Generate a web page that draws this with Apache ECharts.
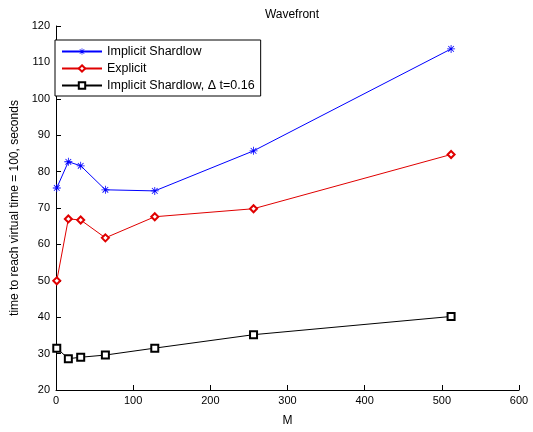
<!DOCTYPE html>
<html>
<head>
<meta charset="utf-8">
<script src="https://cdn.jsdelivr.net/npm/echarts@6/dist/echarts.min.js"></script>
<style>
  html, body { margin: 0; padding: 0; background: #fff; }
  #chart { width: 533px; height: 432px; }
</style>
</head>
<body>
<div id="chart"></div>
<script>
// data
var mValues = [1, 16, 32, 64, 128, 256, 512];
var implicitShardlow = [75.5, 82.7, 81.6, 75, 74.7, 85.7, 113.7];
var explicitVals = [50, 67, 66.7, 61.8, 67.6, 69.8, 84.7];
var implicitDt = [31.5, 28.6, 29, 29.6, 31.5, 35.2, 40.2];
var seriesNames = ['Implicit Shardlow', 'Explicit', 'Implicit Shardlow, \u0394 t=0.16'];

function pairs(ys) {
    return mValues.map(function (x, i) { return [x, ys[i]]; });
}

// asterisk marker like matlab '*'
var star = 'path://M4.5,0h1v10h-1z M0,4.5h10v1h-10z M1.1,1.8L1.8,1.1L8.9,8.2L8.2,8.9Z M8.2,1.1L8.9,1.8L1.8,8.9L1.1,8.2Z';

var font = 'Liberation Sans';
var chart = echarts.init(document.getElementById('chart'));
chart.setOption({
    animation: false,
    backgroundColor: '#fff',
    title: {
        text: 'Wavefront',
        left: 287,
        top: 4,
        textAlign: 'center',
        textStyle: { fontFamily: font, fontSize: 12, fontWeight: 'normal', color: '#000' }
    },
    legend: {
        orient: 'vertical',
        left: 55,
        top: 40,
        data: seriesNames,
        backgroundColor: '#fff',
        borderColor: '#000',
        borderWidth: 1,
        borderRadius: 0,
        padding: [5, 6, 4, 6],
        itemGap: 4,
        itemWidth: 40,
        itemHeight: 8,
        itemStyle: { borderWidth: 1 },
        textStyle: { fontFamily: font, fontSize: 12.5, color: '#000' }
    },
    grid: { left: 56, right: 14, top: 26, bottom: 42 },
    xAxis: {
        type: 'value',
        min: 0, max: 600, interval: 100,
        name: 'M',
        nameLocation: 'middle',
        nameGap: 25,
        nameTextStyle: { fontFamily: font, fontSize: 12, color: '#000' },
        axisLine: { lineStyle: { color: '#000', width: 1 } },
        axisTick: { inside: true, length: 5, lineStyle: { color: '#000' } },
        axisLabel: { fontFamily: font, fontSize: 11, color: '#000', margin: 5 },
        splitLine: { show: false }
    },
    yAxis: {
        type: 'value',
        min: 20, max: 120, interval: 10,
        name: 'time to reach virtual time = 100, seconds',
        nameLocation: 'middle',
        nameGap: 33,
        nameTextStyle: { fontFamily: font, fontSize: 12, color: '#000' },
        axisLine: { show: true, lineStyle: { color: '#000', width: 1 } },
        axisTick: { show: true, inside: true, length: 5, lineStyle: { color: '#000' } },
        axisLabel: { fontFamily: font, fontSize: 11, color: '#000', margin: 6 },
        splitLine: { show: false }
    },
    series: [
        {
            name: seriesNames[0],
            type: 'line',
            data: pairs(implicitShardlow),
            color: '#0000ff',
            symbol: star,
            symbolSize: 8,
            lineStyle: { width: 1, color: '#0000ff' },
            itemStyle: { color: '#0000ff', borderWidth: 0 }
        },
        {
            name: seriesNames[1],
            type: 'line',
            data: pairs(explicitVals),
            color: '#e00000',
            symbol: 'emptyDiamond',
            symbolSize: 7,
            lineStyle: { width: 1, color: '#e00000' },
            itemStyle: { color: '#e00000', borderWidth: 1 }
        },
        {
            name: seriesNames[2],
            type: 'line',
            data: pairs(implicitDt),
            color: '#000',
            symbol: 'emptyRect',
            symbolSize: 7,
            lineStyle: { width: 1, color: '#000' },
            itemStyle: { color: '#000', borderWidth: 1 }
        }
    ]
});
</script>
</body>
</html>
